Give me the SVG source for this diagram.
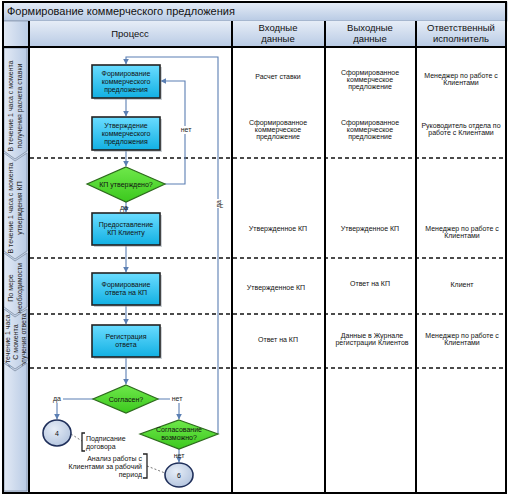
<svg xmlns="http://www.w3.org/2000/svg" width="513" height="496" viewBox="0 0 513 496">
<defs>
<linearGradient id="hdr" x1="0" y1="0" x2="0" y2="1">
<stop offset="0" stop-color="#e6edf7"/><stop offset="1" stop-color="#b8cae4"/>
</linearGradient>
<linearGradient id="lane" x1="0" y1="0" x2="1" y2="0">
<stop offset="0" stop-color="#e3eaf5"/><stop offset="1" stop-color="#b9cbe5"/>
</linearGradient>
<linearGradient id="box" x1="0" y1="0" x2="0" y2="1">
<stop offset="0" stop-color="#6adcff"/><stop offset="1" stop-color="#12b0e3"/>
</linearGradient>
<linearGradient id="dia" x1="0" y1="0" x2="0" y2="1">
<stop offset="0" stop-color="#6ee84a"/><stop offset="1" stop-color="#3cc81e"/>
</linearGradient>
<radialGradient id="circ" cx="0.4" cy="0.35" r="0.7">
<stop offset="0" stop-color="#e6edf7"/><stop offset="1" stop-color="#b3c4de"/>
</radialGradient>
<marker id="ar" viewBox="0 0 10 10" refX="9" refY="5" markerWidth="6" markerHeight="6" orient="auto" markerUnits="userSpaceOnUse">
<path d="M0,0 L10,5 L0,10 z" fill="#5b7fb3"/>
</marker>
<style>
text{font-family:"Liberation Sans",Arial,sans-serif;fill:#111}
.t{font-size:11px}
.h{font-size:9.5px;text-anchor:middle}
.s{font-size:7px;text-anchor:middle}
.n{font-size:7px;text-anchor:middle;fill:#222}
.c{stroke:#5b7fb3;stroke-width:1.1;fill:none}
.sep{stroke:#000;stroke-width:2;fill:none}
.dash{stroke:#111;stroke-width:1.6;stroke-dasharray:4 3;fill:none}
.bx{fill:url(#box);stroke:#222;stroke-width:1.6}
.sh{fill:#9aa3ad;opacity:0.5}
.dm{fill:url(#dia);stroke:#2c6a1c;stroke-width:1.2}
.ci{fill:url(#circ);stroke:#1f2f5a;stroke-width:1.6}
.ln{fill:url(#lane);stroke:#7f8ea3;stroke-width:0.8}
.an{stroke:#555;stroke-width:0.8;stroke-dasharray:2 2;fill:none}
.br{stroke:#222;stroke-width:1.3;fill:none}
</style>
</defs>

<rect x="0" y="0" width="513" height="496" fill="#fff"/>
<!-- title -->
<g id="title">
<rect x="3" y="2" width="504" height="19" fill="url(#hdr)" stroke="#8a9ab0" stroke-width="0.8"/>
<text class="t" x="7" y="15">Формирование коммерческого предложения</text>
</g>
<!-- header -->
<g id="header">
<rect x="3" y="21" width="26" height="26" fill="url(#lane)" stroke="#8a9ab0" stroke-width="0.8"/>
<rect x="29" y="21" width="203" height="26" fill="url(#hdr)"/>
<rect x="232" y="21" width="93" height="26" fill="url(#hdr)"/>
<rect x="325" y="21" width="91" height="26" fill="url(#hdr)"/>
<rect x="416" y="21" width="90" height="26" fill="url(#hdr)"/>
<text class="h" x="130" y="37">Процесс</text>
<text class="h" x="278" y="31">Входные</text>
<text class="h" x="278" y="42">данные</text>
<text class="h" x="370" y="31">Выходные</text>
<text class="h" x="370" y="42">данные</text>
<text class="h" x="461" y="31">Ответственный</text>
<text class="h" x="461" y="42">исполнитель</text>
</g>
<!-- left lane column -->
<rect x="3" y="47" width="26" height="446" fill="#c9d6ea"/>
<g id="lane1">
<polygon class="ln" points="4,48 27,48 27,151 15,159 4,151"/>
<text class="n" transform="translate(13,106) rotate(-90)">В течение 1 часа с момента</text>
<text class="n" transform="translate(22,106) rotate(-90)">получения расчета ставки</text>
</g>
<g id="lane2">
<polygon class="ln" points="4,153 15,161 27,153 27,251 15,259 4,251"/>
<text class="n" transform="translate(13,208) rotate(-90)">В течение 1 часа с момента</text>
<text class="n" transform="translate(22,208) rotate(-90)">утверждения КП</text>
</g>
<g id="lane3">
<polygon class="ln" points="4,253 15,261 27,253 27,307 15,315 4,307"/>
<text class="n" transform="translate(13,288) rotate(-90)">По мере</text>
<text class="n" transform="translate(22,288) rotate(-90)">необходимости</text>
</g>
<g id="lane4">
<polygon class="ln" points="4,309 15,317 27,309 27,361 15,369 4,361"/>
<text class="n" transform="translate(10,342) rotate(-90)">В течение 1 часа</text>
<text class="n" transform="translate(18,342) rotate(-90)">С момента</text>
<text class="n" transform="translate(26,342) rotate(-90)">получения ответа</text>
</g>
<g id="lane5">
<polygon class="ln" points="4,363 15,371 27,363 27,491 4,491"/>
</g>

<!-- grid -->
<g id="grid">
<path class="dash" d="M30,158 H505 M30,258 H505 M30,314 H505 M30,368 H505"/>
<path class="sep" d="M29,21 V493 M232,21 V493 M325,21 V493 M416,21 V493"/>
<path class="sep" d="M3,47 H506"/>
<rect x="3" y="2" width="503" height="491" fill="none" stroke="#000" stroke-width="2"/>
</g>

<!-- connectors -->
<g id="connectors">
<path class="c" d="M126,98 V116" marker-end="url(#ar)"/>
<path class="c" d="M126,150 V166" marker-end="url(#ar)"/>
<path class="c" d="M126,202 V212" marker-end="url(#ar)"/>
<path class="c" d="M126,245 V272" marker-end="url(#ar)"/>
<path class="c" d="M126,305 V324" marker-end="url(#ar)"/>
<path class="c" d="M126,357 V384" marker-end="url(#ar)"/>
<path class="c" d="M165,184 H185 V81 H161" marker-end="url(#ar)"/>
<path class="c" d="M218,434 V57 H126 V64" marker-end="url(#ar)"/>
<path class="c" d="M93,399 H57 V419" marker-end="url(#ar)"/>
<path class="c" d="M158,399 H179 V419" marker-end="url(#ar)"/>
<path class="c" d="M179,449 V462" marker-end="url(#ar)"/>
<rect x="180" y="126" width="11" height="8" fill="#fff"/>
<text class="n" x="186" y="132">нет</text>
<rect x="212" y="199" width="12" height="9" fill="#fff"/>
<text class="n" transform="translate(221,204) rotate(-90)">да</text>
<text class="n" x="124" y="210">да</text>
<rect x="51" y="395" width="12" height="8" fill="#fff"/>
<text class="n" x="57" y="401">да</text>
<rect x="170" y="395" width="14" height="8" fill="#fff"/>
<text class="n" x="177" y="401">нет</text>
<text class="n" x="179" y="458">нет</text>
<path class="an" d="M71,434 L82,441"/>
<path class="an" d="M147,466 L165,473"/>
</g>

<!-- nodes -->
<g id="n1"><rect class="sh" x="94" y="67" width="68" height="33"/><rect class="bx" x="92" y="65" width="68" height="33"/>
<text class="s" x="126" y="76">Формирование</text><text class="s" x="126" y="84">коммерческого</text><text class="s" x="126" y="92">предложения</text></g>
<g id="n2"><rect class="sh" x="94" y="119" width="68" height="33"/><rect class="bx" x="92" y="117" width="68" height="33"/>
<text class="s" x="126" y="128">Утверждение</text><text class="s" x="126" y="136">коммерческого</text><text class="s" x="126" y="144">предложения</text></g>
<g id="d1"><polygon class="dm" points="126,167 165,184 126,202 87,184"/>
<text class="s" x="126" y="187">КП утверждено?</text></g>
<g id="n3"><rect class="sh" x="94" y="215" width="68" height="32"/><rect class="bx" x="92" y="213" width="68" height="32"/>
<text class="s" x="126" y="227">Предоставление</text><text class="s" x="126" y="235">КП Клиенту</text></g>
<g id="n4"><rect class="sh" x="94" y="275" width="68" height="32"/><rect class="bx" x="92" y="273" width="68" height="32"/>
<text class="s" x="126" y="287">Формирование</text><text class="s" x="126" y="295">ответа на КП</text></g>
<g id="n5"><rect class="sh" x="94" y="327" width="68" height="32"/><rect class="bx" x="92" y="325" width="68" height="32"/>
<text class="s" x="126" y="339">Регистрация</text><text class="s" x="126" y="347">ответа</text></g>
<g id="d2"><polygon class="dm" points="126,385 158,399 126,413 93,399"/>
<text class="s" x="126" y="402">Согласен?</text></g>
<g id="d3"><polygon class="dm" points="179,420 218,434 179,449 140,434"/>
<text class="s" x="179" y="432">Согласование</text><text class="s" x="179" y="440">возможно?</text></g>
<g id="c4"><ellipse class="ci" cx="57" cy="433" rx="14" ry="13"/>
<text class="s" x="57" y="436">4</text></g>
<g id="c6"><ellipse class="ci" cx="179" cy="475" rx="14" ry="12"/>
<text class="s" x="179" y="478">6</text></g>
<g id="a1"><path class="br" d="M85,433 H82 V451 H85"/>
<text x="86" y="441" style="font-size:7px">Подписание</text>
<text x="86" y="449" style="font-size:7px">договора</text></g>
<g id="a2"><path class="br" d="M143,454 H147 V478 H143"/>
<text x="142" y="461" style="font-size:7px;text-anchor:end">Анализ работы с</text>
<text x="142" y="469" style="font-size:7px;text-anchor:end">Клиентами за рабочий</text>
<text x="142" y="477" style="font-size:7px;text-anchor:end">период</text></g>

<!-- table texts -->
<g id="tbl">
<text class="s" x="278" y="79">Расчет ставки</text>
<text class="s" x="370" y="75">Сформированное</text><text class="s" x="370" y="82">коммерческое</text><text class="s" x="370" y="89">предложение</text>
<text class="s" x="461" y="78">Менеджер по работе с</text><text class="s" x="461" y="85">Клиентами</text>
<text class="s" x="278" y="125">Сформированное</text><text class="s" x="278" y="132">коммерческое</text><text class="s" x="278" y="139">предложение</text>
<text class="s" x="370" y="125">Сформированное</text><text class="s" x="370" y="132">коммерческое</text><text class="s" x="370" y="139">предложение</text>
<text class="s" x="461" y="128">Руководитель отдела по</text><text class="s" x="461" y="135">работе с Клиентами</text>
<text class="s" x="278" y="231">Утвержденное КП</text>
<text class="s" x="370" y="231">Утвержденное КП</text>
<text class="s" x="462" y="231">Менеджер по работе с</text><text class="s" x="462" y="238">Клиентами</text>
<text class="s" x="276" y="290">Утвержденное КП</text>
<text class="s" x="370" y="286">Ответ на КП</text>
<text class="s" x="462" y="287">Клиент</text>
<text class="s" x="278" y="342">Ответ на КП</text>
<text class="s" x="372" y="338">Данные в Журнале</text><text class="s" x="372" y="345">регистрации Клиентов</text>
<text class="s" x="462" y="338">Менеджер по работе с</text><text class="s" x="462" y="345">Клиентами</text>
</g>
</svg>
